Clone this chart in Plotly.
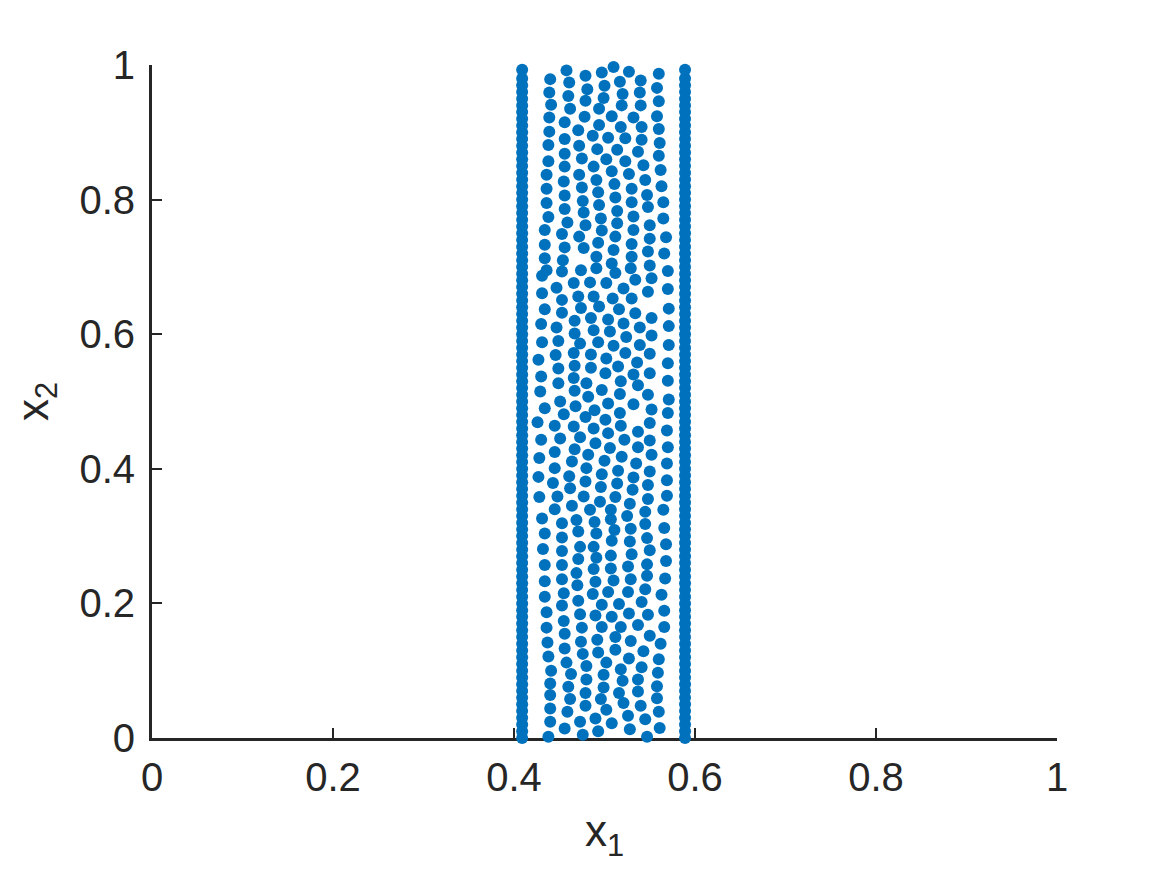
import plotly.graph_objects as go

# Interior points (x1, x2)
interior_x = [
    0.510, 0.458, 0.527, 0.497, 0.479, 0.560, 0.440, 0.461, 0.517, 0.540, 0.500, 0.481, 0.558, 0.439, 0.460,
    0.520, 0.539, 0.499, 0.479, 0.560, 0.441, 0.462, 0.519, 0.540, 0.494, 0.508, 0.478, 0.532, 0.558, 0.439,
    0.456, 0.494, 0.518, 0.541, 0.560, 0.439, 0.471, 0.487, 0.504, 0.523, 0.541, 0.561, 0.438, 0.456, 0.472,
    0.492, 0.514, 0.537, 0.560, 0.456, 0.438, 0.475, 0.502, 0.523, 0.543, 0.488, 0.456, 0.562,
    0.436, 0.472, 0.508, 0.527, 0.491, 0.455, 0.436, 0.475, 0.511, 0.545, 0.563, 0.456, 0.493, 0.530, 0.512,
    0.547, 0.436, 0.476, 0.565, 0.456, 0.494, 0.530, 0.548, 0.514, 0.438, 0.477, 0.459, 0.496, 0.532, 0.565,
    0.479, 0.514, 0.550, 0.434, 0.453, 0.497, 0.532, 0.472, 0.512, 0.568, 0.550, 0.434, 0.456, 0.493, 0.530,
    0.477, 0.510, 0.566, 0.548, 0.434, 0.454, 0.491, 0.530, 0.508, 0.550, 0.436, 0.453, 0.474, 0.491, 0.529,
    0.570, 0.512, 0.431, 0.534, 0.552, 0.466, 0.484, 0.502,
    0.431, 0.447, 0.521, 0.548, 0.570, 0.453, 0.471, 0.488, 0.509, 0.530, 0.434, 0.453, 0.474, 0.494, 0.516,
    0.534, 0.571, 0.552, 0.430, 0.467, 0.485, 0.504, 0.521, 0.447, 0.467, 0.488, 0.506, 0.539, 0.571, 0.431,
    0.449, 0.473, 0.493, 0.524, 0.552, 0.510, 0.539, 0.571, 0.427, 0.446, 0.466, 0.485, 0.502, 0.523, 0.550,
    0.449, 0.467, 0.485, 0.515, 0.536, 0.570, 0.430, 0.466, 0.501, 0.532, 0.550, 0.449, 0.480, 0.518, 0.570,
    0.537, 0.497, 0.429, 0.467, 0.517, 0.548, 0.482, 0.571,
    0.434, 0.451, 0.468, 0.489, 0.504, 0.532, 0.552, 0.570, 0.455, 0.479, 0.501, 0.517, 0.426, 0.445, 0.466,
    0.488, 0.518, 0.550, 0.504, 0.537, 0.569, 0.430, 0.451, 0.473, 0.490, 0.522, 0.550, 0.445, 0.467, 0.506,
    0.537, 0.570, 0.428, 0.482, 0.519, 0.552, 0.464, 0.500, 0.535, 0.569, 0.445, 0.480, 0.515, 0.550, 0.427,
    0.461, 0.497, 0.532, 0.569, 0.443, 0.479, 0.514, 0.548, 0.462, 0.496, 0.531, 0.428, 0.448, 0.477, 0.512,
    0.548, 0.569, 0.464, 0.495, 0.528, 0.445, 0.484, 0.507, 0.545, 0.565,
    0.431, 0.453, 0.469, 0.489, 0.507, 0.525, 0.545, 0.434, 0.471, 0.491, 0.511, 0.529, 0.566, 0.453, 0.473,
    0.488, 0.508, 0.528, 0.547, 0.432, 0.453, 0.507, 0.530, 0.550, 0.568, 0.471, 0.491, 0.434, 0.453, 0.488,
    0.507, 0.526, 0.547, 0.568, 0.469, 0.434, 0.453, 0.490, 0.510, 0.529, 0.547, 0.567, 0.470, 0.434, 0.455,
    0.487, 0.504, 0.526, 0.545, 0.563, 0.471, 0.453, 0.497, 0.516, 0.541, 0.436, 0.473, 0.490, 0.508, 0.527,
    0.548, 0.566, 0.455, 0.436, 0.475, 0.497, 0.518, 0.537, 0.566,
    0.456, 0.512, 0.550, 0.437, 0.474, 0.492, 0.529, 0.562, 0.456, 0.512, 0.543, 0.438, 0.476, 0.493, 0.527,
    0.560, 0.458, 0.480, 0.502, 0.541, 0.441, 0.463, 0.518, 0.559, 0.499, 0.440, 0.480, 0.520, 0.537, 0.460,
    0.499, 0.558, 0.440, 0.479, 0.516, 0.537, 0.462, 0.496, 0.558, 0.440, 0.479, 0.521, 0.540, 0.459, 0.502,
    0.560, 0.440, 0.473, 0.490, 0.526, 0.545, 0.456, 0.508, 0.528, 0.561, 0.493, 0.438, 0.476, 0.547,
]
interior_y = [
    0.997, 0.992, 0.990, 0.989, 0.984, 0.987, 0.979, 0.974, 0.975, 0.977, 0.969, 0.964, 0.966, 0.959, 0.954,
    0.957, 0.959, 0.951, 0.947, 0.946, 0.941, 0.935, 0.940, 0.940, 0.935, 0.924, 0.923, 0.922, 0.924, 0.922,
    0.915, 0.911, 0.908, 0.908, 0.905, 0.901, 0.903, 0.895, 0.892, 0.891, 0.889, 0.884, 0.881, 0.890, 0.880,
    0.875, 0.874, 0.871, 0.865, 0.868, 0.857, 0.861, 0.860, 0.857, 0.851, 0.849, 0.849, 0.844,
    0.837, 0.837, 0.842, 0.838, 0.829, 0.827, 0.816, 0.818, 0.823, 0.829, 0.820, 0.806, 0.811, 0.816, 0.803,
    0.807, 0.795, 0.798, 0.796, 0.786, 0.792, 0.796, 0.789, 0.783, 0.774, 0.781, 0.766, 0.772, 0.775, 0.772,
    0.762, 0.765, 0.762, 0.755, 0.749, 0.754, 0.755, 0.745, 0.745, 0.744, 0.742, 0.733, 0.729, 0.736, 0.734,
    0.728, 0.725, 0.720, 0.723, 0.713, 0.710, 0.715, 0.715, 0.705, 0.702, 0.695, 0.693, 0.695, 0.698, 0.698,
    0.694, 0.691, 0.687, 0.681, 0.683, 0.676, 0.677, 0.676,
    0.661, 0.669, 0.668, 0.663, 0.667, 0.651, 0.656, 0.656, 0.653, 0.653, 0.637, 0.632, 0.639, 0.641, 0.637,
    0.631, 0.638, 0.624, 0.615, 0.620, 0.624, 0.622, 0.616, 0.610, 0.601, 0.606, 0.604, 0.610, 0.612, 0.588,
    0.590, 0.586, 0.588, 0.596, 0.598, 0.583, 0.584, 0.584, 0.562, 0.569, 0.572, 0.570, 0.564, 0.572, 0.571,
    0.549, 0.553, 0.550, 0.552, 0.558, 0.557, 0.537, 0.535, 0.542, 0.540, 0.542, 0.527, 0.527, 0.530, 0.531,
    0.524, 0.517, 0.515, 0.516, 0.511, 0.510, 0.507, 0.503,
    0.490, 0.500, 0.493, 0.487, 0.497, 0.496, 0.488, 0.483, 0.481, 0.477, 0.473, 0.483, 0.469, 0.464, 0.463,
    0.460, 0.464, 0.468, 0.453, 0.455, 0.457, 0.443, 0.445, 0.447, 0.438, 0.443, 0.442, 0.425, 0.429, 0.431,
    0.432, 0.432, 0.416, 0.421, 0.418, 0.421, 0.411, 0.412, 0.408, 0.408, 0.401, 0.401, 0.397, 0.396, 0.388,
    0.389, 0.392, 0.387, 0.383, 0.379, 0.381, 0.378, 0.376, 0.371, 0.373, 0.369, 0.358, 0.359, 0.359, 0.358,
    0.355, 0.360, 0.345, 0.351, 0.348, 0.340, 0.339, 0.339, 0.336, 0.339,
    0.326, 0.319, 0.324, 0.321, 0.325, 0.330, 0.318, 0.304, 0.307, 0.304, 0.309, 0.311, 0.312, 0.298, 0.284,
    0.284, 0.293, 0.292, 0.297, 0.281, 0.278, 0.271, 0.273, 0.279, 0.288, 0.266, 0.268, 0.257, 0.257, 0.251,
    0.252, 0.255, 0.258, 0.263, 0.245, 0.233, 0.236, 0.232, 0.234, 0.236, 0.241, 0.237, 0.227, 0.210, 0.215,
    0.214, 0.217, 0.217, 0.221, 0.213, 0.204, 0.197, 0.198, 0.199, 0.202, 0.187, 0.184, 0.182, 0.180, 0.185,
    0.183, 0.189, 0.174, 0.164, 0.164, 0.165, 0.165, 0.168, 0.165,
    0.155, 0.150, 0.152, 0.142, 0.143, 0.146, 0.144, 0.140, 0.133, 0.131, 0.129, 0.121, 0.125, 0.127, 0.118,
    0.117, 0.112, 0.107, 0.112, 0.105, 0.100, 0.095, 0.102, 0.097, 0.094, 0.081, 0.087, 0.085, 0.087, 0.076,
    0.075, 0.077, 0.064, 0.067, 0.067, 0.069, 0.058, 0.058, 0.059, 0.044, 0.048, 0.052, 0.048, 0.039, 0.042,
    0.039, 0.024, 0.024, 0.029, 0.033, 0.028, 0.014, 0.022, 0.013, 0.015, 0.010, 0.002, 0.005, 0.002,
]

# Points packed on the two boundaries x1 = 0.409 and x1 = 0.589
boundary_y = [
    0.000, 0.010, 0.020, 0.030, 0.040, 0.050, 0.060, 0.070, 0.080, 0.090,
    0.100, 0.110, 0.120, 0.130, 0.140, 0.150, 0.160, 0.170, 0.180, 0.190,
    0.200, 0.210, 0.220, 0.230, 0.240, 0.250, 0.260, 0.270, 0.280, 0.290,
    0.300, 0.310, 0.320, 0.330, 0.340, 0.350, 0.360, 0.370, 0.380, 0.390,
    0.400, 0.410, 0.420, 0.430, 0.440, 0.450, 0.460, 0.470, 0.480, 0.490,
    0.500, 0.510, 0.520, 0.530, 0.540, 0.550, 0.560, 0.570, 0.580, 0.590,
    0.600, 0.610, 0.620, 0.630, 0.640, 0.650, 0.660, 0.670, 0.680, 0.690,
    0.700, 0.710, 0.720, 0.730, 0.740, 0.750, 0.760, 0.770, 0.780, 0.790,
    0.800, 0.810, 0.820, 0.830, 0.840, 0.850, 0.860, 0.870, 0.880, 0.890,
    0.900, 0.910, 0.920, 0.930, 0.940, 0.950, 0.960, 0.970, 0.980, 0.993,
]
left_boundary_x = 0.409
right_boundary_x = 0.589

tick_vals = [0, 0.2, 0.4, 0.6, 0.8, 1]
tick_text = ["0", "0.2", "0.4", "0.6", "0.8", "1"]

all_x = interior_x + [left_boundary_x] * len(boundary_y) + [right_boundary_x] * len(boundary_y)
all_y = interior_y + boundary_y + boundary_y

BLUE = "#0072BD"
INK = "#262626"
FONT = "Liberation Sans, Arial, Helvetica, sans-serif"

fig = go.Figure()
fig.add_trace(go.Scatter(
    x=all_x, y=all_y, mode="markers",
    marker=dict(color=BLUE, size=12, line=dict(width=0)),
    cliponaxis=False, hoverinfo="skip", showlegend=False,
))

axis_common = dict(
    range=[0, 1], tickvals=tick_vals, ticktext=tick_text,
    showgrid=False, zeroline=False, showline=True, linecolor=INK, linewidth=3,
    ticks="inside", ticklen=10, tickwidth=2, tickcolor=INK,
    tickfont=dict(family=FONT, size=40, color=INK),
    layer="below traces", fixedrange=True, automargin=False,
)

fig.update_layout(
    width=1167, height=875,
    margin=dict(l=144, r=118, t=57, b=145),
    paper_bgcolor="white", plot_bgcolor="white",
    font=dict(family=FONT, color=INK),
    xaxis=dict(**axis_common, ticklabelstandoff=2,
               title=dict(text="x<sub>1</sub>", font=dict(family=FONT, size=44, color=INK), standoff=18)),
    yaxis=dict(**axis_common, ticklabelstandoff=6,
               title=dict(text="x<sub>2</sub>", font=dict(family=FONT, size=44, color=INK), standoff=23)),
)

fig.write_html("out.html")
